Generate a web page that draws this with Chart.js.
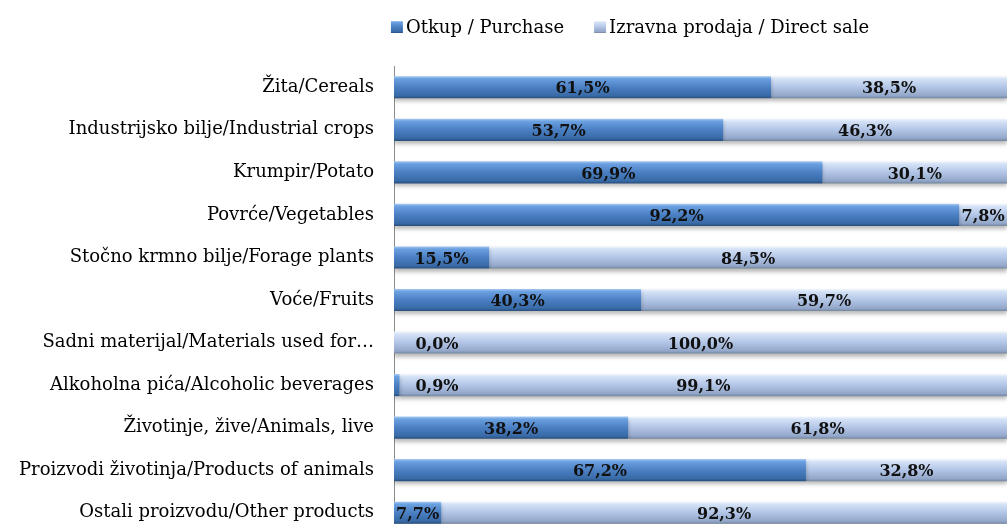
<!DOCTYPE html>
<html>
<head>
<meta charset="utf-8">
<script src="https://cdn.jsdelivr.net/npm/chart.js@4.4.1/dist/chart.umd.min.js"></script>
<style>
  html, body { margin: 0; padding: 0; background: #fff; overflow: hidden; }
  #wrap { position: relative; width: 1007px; height: 534px; }
</style>
</head>
<body>
<div id="wrap"><canvas id="myChart"></canvas></div>
<script>
const categories = [
  'Žita/Cereals',
  'Industrijsko bilje/Industrial crops',
  'Krumpir/Potato',
  'Povrće/Vegetables',
  'Stočno krmno bilje/Forage plants',
  'Voće/Fruits',
  'Sadni materijal/Materials used for…',
  'Alkoholna pića/Alcoholic beverages',
  'Životinje, žive/Animals, live',
  'Proizvodi životinja/Products of animals',
  'Ostali proizvodu/Other products'
];
const purchase = [61.5, 53.7, 69.9, 92.2, 15.5, 40.3, 0.0, 0.9, 38.2, 67.2, 7.7];
const directSale = [38.5, 46.3, 30.1, 7.8, 84.5, 59.7, 100.0, 99.1, 61.8, 32.8, 92.3];
const seriesNames = ['Otkup / Purchase', 'Izravna prodaja / Direct sale'];

const barPct = 0.52;
const darkStops = [[0, '#a4c8f2'], [0.12, '#6a9fe0'], [0.5, '#4a7fc3'], [0.88, '#386aa6'], [1, '#284e7c']];
const lightStops = [[0, '#f2f6fc'], [0.12, '#d4e2f6'], [0.5, '#b2c5e6'], [0.88, '#93a7ca'], [1, '#74879e']];

function makeGradient(ctx, y0, y1, stops) {
  const g = ctx.createLinearGradient(0, y0, 0, y1);
  stops.forEach(s => g.addColorStop(s[0], s[1]));
  return g;
}

function barFill(stops, fallback) {
  return function(context) {
    const chart = context.chart;
    const ys = chart.scales.y;
    if (!chart.chartArea || !ys || context.dataIndex === undefined) return fallback;
    const cy = ys.getPixelForValue(context.dataIndex);
    const h = ys.height / categories.length * barPct;
    return makeGradient(chart.ctx, cy - h / 2, cy + h / 2, stops);
  };
}

const shadowPlugin = {
  id: 'barShadow',
  beforeDatasetsDraw(chart) {
    const ctx = chart.ctx;
    ctx.save();
    ctx.shadowColor = 'rgba(0,0,0,0.28)';
    ctx.shadowBlur = 4;
    ctx.shadowOffsetY = 3;
  },
  afterDatasetsDraw(chart) {
    chart.ctx.restore();
  }
};

const labelPlugin = {
  id: 'barLabels',
  afterDraw(chart) {
    const ctx = chart.ctx;
    ctx.save();
    ctx.font = 'bold 16px "DejaVu Serif"';
    ctx.fillStyle = '#111';
    ctx.textAlign = 'center';
    ctx.textBaseline = 'middle';
    chart.data.datasets.forEach((ds, i) => {
      const meta = chart.getDatasetMeta(i);
      meta.data.forEach((bar, j) => {
        const v = ds.data[j];
        const left = Math.min(bar.x, bar.base);
        const right = Math.max(bar.x, bar.base);
        let x = (left + right) / 2;
        if (v < 2) x = left + 43;
        const txt = v.toFixed(1).replace('.', ',') + '%';
        ctx.fillText(txt, x, bar.y + 2);
      });
    });
    ctx.restore();
  }
};

const legendPlugin = {
  id: 'topLegend',
  afterDraw(chart) {
    const ctx = chart.ctx;
    ctx.save();
    ctx.font = '18px "DejaVu Serif"';
    ctx.textBaseline = 'middle';
    const box = 12, gap = 3, itemGap = 30, cy = 27;
    const widths = seriesNames.map(n => box + gap + ctx.measureText(n).width);
    const total = widths[0] + widths[1] + itemGap;
    let x = 630 - total / 2;
    const stops = [darkStops, lightStops];
    seriesNames.forEach((n, i) => {
      ctx.fillStyle = makeGradient(ctx, cy - box / 2, cy + box / 2, stops[i]);
      ctx.fillRect(x, cy - box / 2, box, box);
      ctx.fillStyle = '#000';
      ctx.fillText(n, x + box + gap, cy + 1);
      x += widths[i] + itemGap;
    });
    ctx.restore();
  }
};

const data = {
  labels: categories,
  datasets: [{
    label: seriesNames[0],
    data: purchase,
    backgroundColor: barFill(darkStops, '#4a7fc3'),
    borderWidth: 0,
    barPercentage: barPct,
    categoryPercentage: 1,
  },
  {
    label: seriesNames[1],
    data: directSale,
    backgroundColor: barFill(lightStops, '#b2c5e6'),
    borderWidth: 0,
    barPercentage: barPct,
    categoryPercentage: 1,
  }]
};

const config = {
  type: 'bar',
  data: data,
  plugins: [shadowPlugin, labelPlugin, legendPlugin],
  options: {
    indexAxis: 'y',
    responsive: true,
    maintainAspectRatio: false,
    devicePixelRatio: 1,
    animation: false,
    layout: {
      padding: { top: 66, right: 0, bottom: 0, left: 0 }
    },
    plugins: {
      legend: { display: false },
      tooltip: { enabled: false }
    },
    scales: {
      x: {
        stacked: true,
        min: 0,
        max: 100,
        display: false,
      },
      y: {
        stacked: true,
        grid: { display: false },
        border: { display: true, color: '#8c8c8c', width: 1 },
        ticks: {
          color: '#000',
          padding: 12,
          font: { family: '"DejaVu Serif"', size: 18 },
        },
        afterFit(scale) {
          scale.width = 394;
          scale.paddingTop = 0;
          scale.paddingBottom = 0;
        }
      }
    }
  }
};

const myChart = new Chart(document.getElementById('myChart'), config);
</script>
</body>
</html>
